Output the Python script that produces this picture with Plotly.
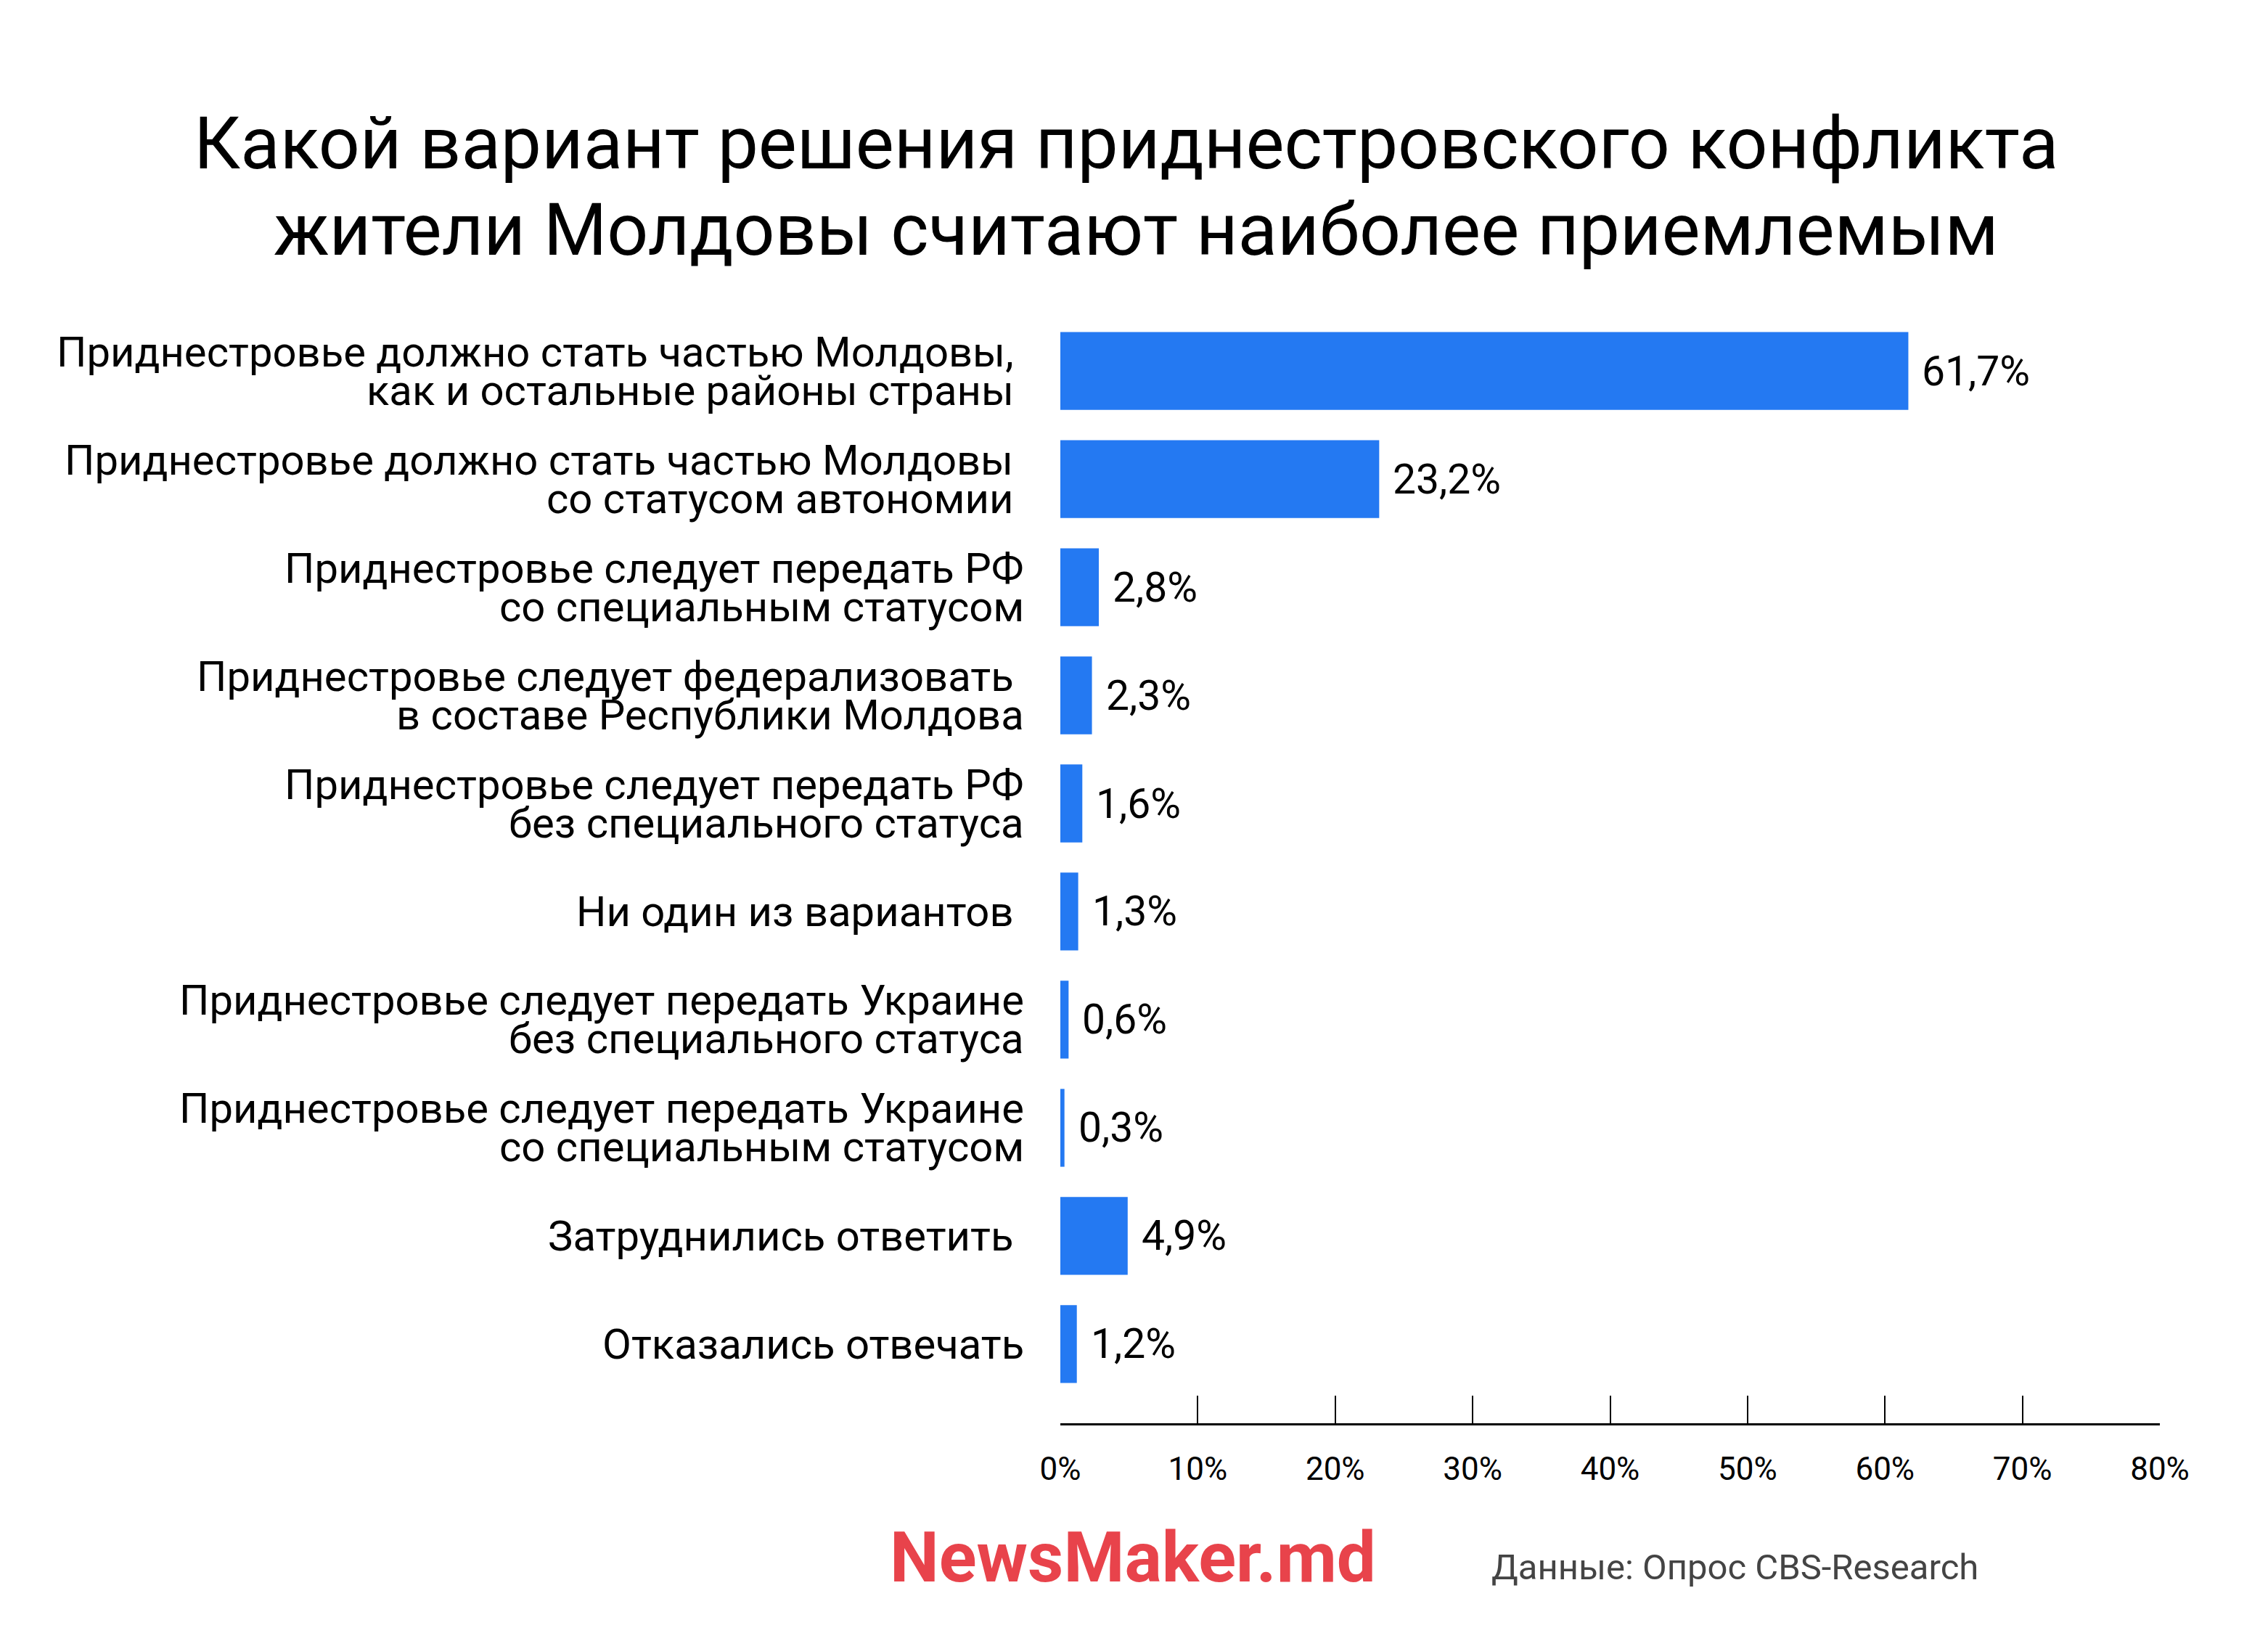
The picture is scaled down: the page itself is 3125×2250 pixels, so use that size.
import plotly.graph_objects as go

title_lines = ["Какой вариант решения приднестровского конфликта",
               "жители Молдовы считают наиболее приемлемым"]

categories = [
    "Приднестровье должно стать частью Молдовы, <br>как и остальные районы страны ",
    "Приднестровье должно стать частью Молдовы <br>со статусом автономии ",
    "Приднестровье следует передать РФ<br>со специальным статусом",
    "Приднестровье следует федерализовать <br>в составе Республики Молдова",
    "Приднестровье следует передать РФ<br>без специального статуса",
    "Ни один из вариантов ",
    "Приднестровье следует передать Украине<br>без специального статуса",
    "Приднестровье следует передать Украине<br>со специальным статусом",
    "Затруднились ответить ",
    "Отказались отвечать",
]
values = [61.7, 23.2, 2.8, 2.3, 1.6, 1.3, 0.6, 0.3, 4.9, 1.2]
value_labels = ["61,7%", "23,2%", "2,8%", "2,3%", "1,6%", "1,3%", "0,6%", "0,3%", "4,9%", "1,2%"]
x_ticks = [0, 10, 20, 30, 40, 50, 60, 70, 80]
x_ticklabels = ["0%", "10%", "20%", "30%", "40%", "50%", "60%", "70%", "80%"]
logo_text = "NewsMaker.md"
source_text = "Данные: Опрос CBS-Research"

FONT = "Roboto"
BAR = "#2479F2"
OFF = 8  # default page body margin

fig = go.Figure()
fig.add_trace(go.Bar(
    x=values, y=categories, orientation="h",
    marker=dict(color=BAR, line=dict(width=0)),
    width=0.72, hoverinfo="skip",
))

annotations = []
for cat in categories:
    lines = cat.split("<br>")
    n = len(lines)
    for j, ln in enumerate(lines):
        stripped = ln.rstrip()
        txt = stripped + "\u00a0" * (len(ln) - len(stripped))
        shift = 0 if n == 1 else (26.5 if j == 0 else -26.5)
        annotations.append(dict(
            x=0, xref="paper", y=cat, yref="y", text=txt,
            xanchor="right", yanchor="middle", xshift=-48, yshift=shift,
            showarrow=False, font=dict(family=FONT, size=58, color="#000000"),
        ))
for cat, v, lab in zip(categories, values, value_labels):
    annotations.append(dict(
        x=v, xref="x", y=cat, yref="y", text=lab,
        xanchor="left", yanchor="middle", xshift=17, showarrow=False,
        font=dict(family=FONT, size=57, color="#000000"),
    ))

PX_L, PX_R, PX_T, PX_B = 1461, 2976, 437, 1961  # plot area on screen
def paper_x(px):
    return (px - PX_L) / (PX_R - PX_L)
def paper_y(py):
    return (PX_B - py) / (PX_B - PX_T)

for ln, px, py in zip(title_lines, [1551, 1565], [197, 317]):
    annotations.append(dict(
        x=paper_x(px), xref="paper", y=paper_y(py), yref="paper",
        text=ln, xanchor="center", yanchor="middle", showarrow=False,
        font=dict(family=FONT, size=100, color="#000000"),
    ))
annotations.append(dict(
    x=paper_x(1561), xref="paper", y=paper_y(2146), yref="paper",
    text="<b>" + logo_text + "</b>", xanchor="center", yanchor="middle", showarrow=False,
    font=dict(family=FONT, size=96, color="#E8434B"),
))
annotations.append(dict(
    x=paper_x(2053), xref="paper", y=paper_y(2159), yref="paper",
    text=source_text, xanchor="left", yanchor="middle", showarrow=False,
    font=dict(family=FONT, size=49, color="#444444"),
))

W, H = 3125, 2250
fig.update_layout(
    width=W, height=H,
    margin=dict(l=PX_L - OFF, r=W - (PX_R - OFF), t=PX_T - OFF, b=H - (PX_B - OFF), pad=0),
    paper_bgcolor="white", plot_bgcolor="white",
    showlegend=False,
    annotations=annotations,
    xaxis=dict(
        range=[0, 80], tickvals=x_ticks, ticktext=x_ticklabels,
        showgrid=False, zeroline=False,
        showline=True, linecolor="#000000", linewidth=3,
        ticks="inside", ticklen=38, tickwidth=2, tickcolor="#000000",
        tickfont=dict(family=FONT, size=44, color="#000000"),
        ticklabelstandoff=22,
    ),
    yaxis=dict(
        categoryorder="array", categoryarray=categories,
        range=[9.732, -0.497], showticklabels=False, showgrid=False,
        zeroline=False, showline=False, ticks="",
    ),
)

fig.write_html("out.html")
